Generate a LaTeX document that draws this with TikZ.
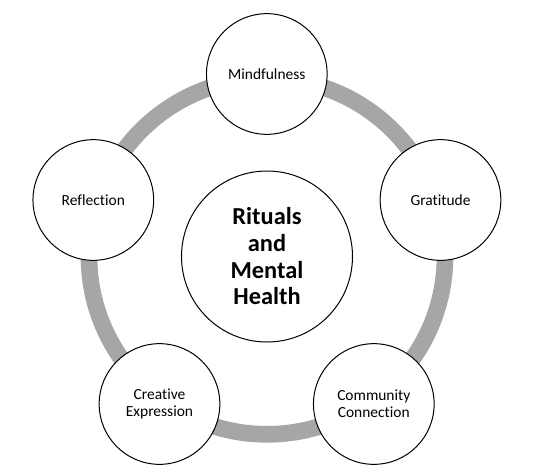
\documentclass[tikz,border=0pt]{standalone}
\usepackage{fontspec}
\setmainfont{Carlito}[Ligatures={NoCommon}]
\definecolor{ringgray}{HTML}{A6A6A6}
\begin{document}
\begin{tikzpicture}[x=0.75pt,y=-0.75pt,
  ring/.style={draw=ringgray, line width=12.5pt},
  topic/.style={circle, draw=black, line width=0.75pt, fill=white, minimum size=90.5pt, inner sep=0pt, align=center, font=\fontsize{11.6}{12.6}\selectfont},
  hub/.style={circle, draw=black, line width=0.75pt, fill=white, minimum size=128.25pt, inner sep=0pt, align=center, font=\fontsize{18.3}{20}\selectfont\bfseries}]
\useasboundingbox[fill=white] (0,0) rectangle (536,472);
\coordinate (c) at (267,256.3);
\draw[ring] (c) circle[radius=133.5pt];
\node[hub] (hub) at (267,256.5) {Rituals\\and\\Mental\\Health};
\node[topic] (mind) at (266.8,74) {Mindfulness};
\node[topic] (grat) at (440.5,200) {Gratitude};
\node[topic] (refl) at (93.3,200) {Reflection};
\node[topic] (crea) at (159.5,404) {Creative\\Expression};
\node[topic] (comm) at (373.8,404) {Community\\Connection};
\end{tikzpicture}
\end{document}
